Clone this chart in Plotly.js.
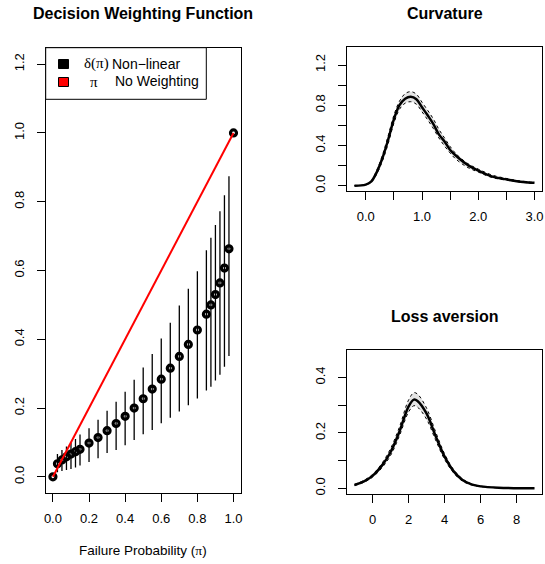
<!DOCTYPE html>
<html>
<head>
<meta charset="utf-8">
<script src="https://cdn.plot.ly/plotly-3.0.1.min.js"></script>
<style>html,body{margin:0;padding:0;background:#fff}#chart{width:545px;height:564px}</style>
</head>
<body>
<div id="chart"></div>
<script>
// ---- Decision weighting function data ----
var probs   = [0,0.025,0.05,0.075,0.1,0.125,0.15,0.2,0.25,0.3,0.35,0.4,0.45,0.5,0.55,0.6,0.65,0.7,0.75,0.8,0.85,0.875,0.9,0.925,0.95,0.975,1];
var delta   = [0,0.038,0.049,0.058,0.066,0.073,0.080,0.098,0.114,0.134,0.155,0.176,0.200,0.227,0.255,0.284,0.316,0.350,0.385,0.427,0.473,0.500,0.530,0.564,0.607,0.663,1.0];
var ciHigh  = [0,0.066,0.078,0.088,0.098,0.110,0.123,0.141,0.166,0.192,0.218,0.247,0.282,0.318,0.357,0.402,0.448,0.498,0.547,0.598,0.659,0.695,0.732,0.772,0.819,0.874,1.0];
var ciLow   = [0,0.013,0.017,0.020,0.023,0.027,0.033,0.043,0.054,0.069,0.078,0.092,0.107,0.124,0.136,0.156,0.172,0.190,0.208,0.228,0.251,0.262,0.280,0.297,0.320,0.351,1.0];
var piX = [0,1];
var piY = [0,1];

// ---- Curvature posterior ----
var curvX     = [-0.2,0,0.1,0.2,0.3,0.4,0.5,0.6,0.7,0.8,0.9,1.0,1.1,1.2,1.3,1.4,1.5,1.6,1.8,2.0,2.25,2.5,2.75,3.0];
var curvMean  = [0.0,0.01,0.043,0.14,0.28,0.46,0.66,0.80,0.865,0.885,0.86,0.78,0.70,0.615,0.51,0.44,0.355,0.30,0.21,0.149,0.09,0.063,0.04,0.028];
var curvUpper = [0.0,0.012,0.05,0.16,0.31,0.50,0.70,0.84,0.915,0.935,0.91,0.83,0.75,0.665,0.56,0.475,0.39,0.32,0.225,0.165,0.105,0.072,0.047,0.033];
var curvLower = [0.0,0.008,0.036,0.12,0.25,0.42,0.62,0.76,0.82,0.835,0.81,0.735,0.655,0.57,0.475,0.395,0.325,0.265,0.185,0.135,0.08,0.055,0.034,0.024];

// ---- Loss aversion posterior ----
var lossX     = [-1,-0.5,0,0.5,1,1.5,2,2.3,2.5,3,3.5,4,4.5,5,5.5,6,7,8,9];
var lossMean  = [0.012,0.024,0.045,0.08,0.13,0.205,0.295,0.32,0.315,0.27,0.19,0.115,0.062,0.03,0.014,0.007,0.002,0.0005,0.0002];
var lossUpper = [0.014,0.028,0.05,0.088,0.143,0.222,0.318,0.345,0.34,0.29,0.205,0.125,0.068,0.034,0.016,0.008,0.0025,0.0006,0.0002];
var lossLower = [0.010,0.021,0.04,0.072,0.118,0.19,0.275,0.298,0.293,0.25,0.175,0.105,0.056,0.026,0.012,0.006,0.0015,0.0004,0.0002];

var W = 545, H = 564;
function px(x){return x/W;}
function py(y){return 1 - y/H;}

var errPlus = delta.map(function(v,i){return ciHigh[i]-v;});
var errMinus = delta.map(function(v,i){return v-ciLow[i];});

var traces = [
  {x: probs, y: delta, type:'scatter', mode:'markers', xaxis:'x', yaxis:'y',
   marker:{symbol:'circle-open', size:6, color:'#000', line:{width:3.2, color:'#000'}},
   error_y:{type:'data', array:errPlus, arrayminus:errMinus, visible:true, width:0, thickness:1.3, color:'#000'},
   hoverinfo:'skip'},
  {x: piX, y: piY, type:'scatter', mode:'lines', xaxis:'x', yaxis:'y',
   line:{color:'#ff0000', width:2}},
  // curvature band
  {x: curvX, y: curvLower, type:'scatter', mode:'lines', xaxis:'x2', yaxis:'y2',
   line:{color:'#000', width:1, dash:'dot', shape:'spline'}},
  {x: curvX, y: curvUpper, type:'scatter', mode:'lines', xaxis:'x2', yaxis:'y2',
   fill:'tonexty', fillcolor:'rgba(210,210,210,0.6)',
   line:{color:'#000', width:1, dash:'dot', shape:'spline'}},
  {x: curvX, y: curvMean, type:'scatter', mode:'lines', xaxis:'x2', yaxis:'y2',
   line:{color:'#000', width:2.5, shape:'spline'}},
  // loss aversion band
  {x: lossX, y: lossLower, type:'scatter', mode:'lines', xaxis:'x3', yaxis:'y3',
   line:{color:'#000', width:1, dash:'dot', shape:'spline'}},
  {x: lossX, y: lossUpper, type:'scatter', mode:'lines', xaxis:'x3', yaxis:'y3',
   fill:'tonexty', fillcolor:'rgba(210,210,210,0.6)',
   line:{color:'#000', width:1, dash:'dot', shape:'spline'}},
  {x: lossX, y: lossMean, type:'scatter', mode:'lines', xaxis:'x3', yaxis:'y3',
   line:{color:'#000', width:2.5, shape:'spline'}}
];

var tickFont = {family:'Liberation Sans, Arial, sans-serif', size:13, color:'#000'};
function ax(extra){
  var a = {showline:true, mirror:true, linecolor:'#000', linewidth:1, ticks:'outside',
    ticklen:8, tickcolor:'#000', tickwidth:1, showgrid:false, zeroline:false,
    tickfont:tickFont, fixedrange:true};
  for (var k in extra) a[k]=extra[k];
  return a;
}

var layout = {
  width:W, height:H, margin:{l:0,r:0,t:0,b:0}, showlegend:false,
  paper_bgcolor:'#fff', plot_bgcolor:'#fff',
  font:{family:'Liberation Sans, Arial, sans-serif', size:13, color:'#000'},
  xaxis: ax({domain:[px(45.7),px(240.7)], range:[-0.04,1.04], anchor:'y',
    tickvals:[0,0.2,0.4,0.6,0.8,1.0], ticktext:['0.0','0.2','0.4','0.6','0.8','1.0'], ticklabelstandoff:5}),
  yaxis: ax({domain:[py(493.3),py(47.7)], range:[-0.048,1.248], anchor:'x',
    tickvals:[0,0.2,0.4,0.6,0.8,1.0,1.2], ticktext:['0.0','0.2','0.4','0.6','0.8','1.0','1.2'], tickangle:-90, ticklabelstandoff:8}),
  xaxis2: ax({domain:[px(347.3),px(541.7)], range:[-0.328,3.128], anchor:'y2',
    tickvals:[0,0.5,1,1.5,2,2.5,3], ticktext:['0.0','','1.0','','2.0','','3.0'], ticklabelstandoff:5}),
  yaxis2: ax({domain:[py(191.3),py(47.3)], range:[-0.056,1.376], anchor:'x2',
    tickvals:[0,0.2,0.4,0.6,0.8,1.0,1.2], ticktext:['0.0','','0.4','','0.8','','1.2'], tickangle:-90, ticklabelstandoff:8}),
  xaxis3: ax({domain:[px(347.3),px(541.7)], range:[-1.4,9.4], anchor:'y3',
    tickvals:[0,2,4,6,8], ticktext:['0','2','4','6','8'], ticklabelstandoff:5}),
  yaxis3: ax({domain:[py(494.3),py(350)], range:[-0.0216,0.499], anchor:'x3',
    tickvals:[0,0.1,0.2,0.3,0.4], ticktext:['0.0','','0.2','','0.4'], tickangle:-90, ticklabelstandoff:8}),
  shapes:[
    {type:'rect', xref:'paper', yref:'paper', x0:px(45.7), x1:px(206.3), y0:py(99.3), y1:py(47.7),
     line:{color:'#000', width:1}, fillcolor:'#fff'},
    {type:'rect', xref:'paper', yref:'paper', x0:px(58.5), x1:px(68.5), y0:py(68.5), y1:py(59.5),
     line:{color:'#000', width:1}, fillcolor:'#000'},
    {type:'rect', xref:'paper', yref:'paper', x0:px(58.5), x1:px(68.5), y0:py(86.5), y1:py(77.5),
     line:{color:'#000', width:1}, fillcolor:'#ff0000'}
  ],
  annotations:[
    {text:'<b>Decision Weighting Function</b>', xref:'paper', yref:'paper', x:px(143), y:py(13.5),
     xanchor:'center', yanchor:'middle', showarrow:false, font:{size:16}},
    {text:'<b>Curvature</b>', xref:'paper', yref:'paper', x:px(444.5), y:py(13.5),
     xanchor:'center', yanchor:'middle', showarrow:false, font:{size:16}},
    {text:'<b>Loss aversion</b>', xref:'paper', yref:'paper', x:px(444.5), y:py(316),
     xanchor:'center', yanchor:'middle', showarrow:false, font:{size:16}},
    {text:'Failure Probability (<span style="font-family:Liberation Serif">π</span>)', xref:'paper', yref:'paper', x:px(143), y:py(550.5),
     xanchor:'center', yanchor:'middle', showarrow:false, font:{size:13.5}},
    {text:'<span style="font-family:Liberation Serif">δ(π)</span>', xref:'paper', yref:'paper', x:px(81.5), y:py(64),
     xanchor:'left', yanchor:'middle', showarrow:false, font:{size:15}},
    {text:'Non−linear', xref:'paper', yref:'paper', x:px(110), y:py(64),
     xanchor:'left', yanchor:'middle', showarrow:false, font:{size:14}},
    {text:'<span style="font-family:Liberation Serif">π</span>', xref:'paper', yref:'paper', x:px(94), y:py(82),
     xanchor:'center', yanchor:'middle', showarrow:false, font:{size:15}},
    {text:'No Weighting', xref:'paper', yref:'paper', x:px(113), y:py(81.5),
     xanchor:'left', yanchor:'middle', showarrow:false, font:{size:14}}
  ]
};

Plotly.newPlot('chart', traces, layout, {staticPlot:true, displayModeBar:false});
</script>
</body>
</html>
